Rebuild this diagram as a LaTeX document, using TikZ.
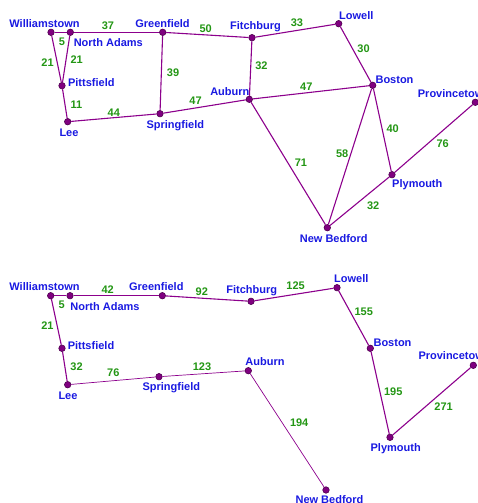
\documentclass[tikz,border=0pt]{standalone}
\usepackage{fontspec}
\setmainfont{Liberation Sans}
\usetikzlibrary{positioning}
\definecolor{roadpurple}{RGB}{140,0,140}
\definecolor{dotpurple}{RGB}{128,0,128}
\definecolor{dotedge}{RGB}{80,0,80}
\definecolor{townblue}{RGB}{25,25,225}
\definecolor{distgreen}{RGB}{35,150,20}

\begin{document}
\begin{tikzpicture}[x=1pt,y=-1pt]
 \tikzset{city/.style={circle,fill=dotpurple,draw=dotedge,line width=0.6pt,inner sep=0pt,minimum size=6.5pt},
  town/.style={text=townblue,font=\bfseries\fontsize{11}{13}\selectfont,inner sep=0pt,anchor=base},
  dist/.style={text=distgreen,font=\bfseries\fontsize{11}{13}\selectfont,inner sep=0pt},
  road/.style={draw=roadpurple,line width=1.1pt},
  thinroad/.style={draw=roadpurple,line width=0.7pt}}
 \useasboundingbox (0,0) rectangle (477,503);

 % full map
 \node[city] (wilA) at (51,32.3) {};
 \node[city] (naA) at (70.3,32.3) {};
 \node[city] (greA) at (162.7,32.3) {};
 \node[city] (fitA) at (252,37.7) {};
 \node[city] (lowA) at (338.7,23.7) {};
 \node[city] (pitA) at (62,85.7) {};
 \node[city] (leeA) at (67.7,121.7) {};
 \node[city] (sprA) at (160,113.7) {};
 \node[city] (aubA) at (249.3,99.3) {};
 \node[city] (bosA) at (372.7,85.3) {};
 \node[city] (proA) at (475.3,102.3) {};
 \node[city] (plyA) at (392,174.7) {};
 \node[city] (nbA) at (327.3,227.7) {};

 \node[town] (wilAt) at (44.5,27.3) {Williamstown};
 \node[town] (naAt) at (108.3,46.7) {North Adams};
 \node[town] (greAt) at (162.5,27.3) {Greenfield};
 \node[town] (fitAt) at (255.5,29.3) {Fitchburg};
 \node[town] (lowAt) at (356.3,19.3) {Lowell};
 \node[town] (pitAt) at (91.3,86) {Pittsfield};
 \node[town] (leeAt) at (69,136.5) {Lee};
 \node[town] (sprAt) at (175.3,128.3) {Springfield};
 \node[town] (aubAt) at (229.8,95) {Auburn};
 \node[town] (bosAt) at (394.5,83.3) {Boston};
 \node[town,anchor=base west] (proAt) at (417.7,97.3) {Provincetown};
 \node[town] (plyAt) at (417.3,187.5) {Plymouth};
 \node[town] (nbAt) at (333.8,242.3) {New Bedford};

 \draw[road] (wilA) -- node[dist,pos=.6,below=5pt] {5} (naA);
 \draw[road] (naA) -- node[dist,pos=.4,above=2pt] {37} (greA);
 \draw[road] (greA) -- node[dist,pos=.48,above=2pt] {50} (fitA);
 \draw[road] (fitA) -- node[dist,pos=.52,above=3.5pt] {33} (lowA);
 \draw[road] (wilA) -- node[dist,pos=.57,left=3pt] {21} (pitA);
 \draw[road] (naA) -- node[dist,pos=.51,right=4pt] {21} (pitA);
 \draw[road] (pitA) -- node[dist,pos=.53,right=5pt] {11} (leeA);
 \draw[road] (greA) -- node[dist,pos=.5,right=5pt] {39} (sprA);
 \draw[road] (leeA) -- node[dist,pos=.5,above=1pt] {44} (sprA);
 \draw[road] (sprA) -- node[dist,pos=.39,above=2.5pt] {47} (aubA);
 \draw[road] (fitA) -- node[dist,pos=.44,right=4pt] {32} (aubA);
 \draw[road] (aubA) -- node[dist,pos=.46,above=2pt] {47} (bosA);
 \draw[road] (lowA) -- node[dist,pos=.39,right=4.5pt] {30} (bosA);
 \draw[road] (bosA) -- node[dist,pos=.48,right=4pt] {40} (plyA);
 \draw[road] (proA) -- node[dist,pos=.47,below right=2.5pt and 0pt] {76} (plyA);
 \draw[road] (aubA) -- node[dist,pos=.54,above right=1.5pt and 3pt] {71} (nbA);
 \draw[road] (bosA) -- node[dist,pos=.48,left=2pt] {58} (nbA);
 \draw[road] (nbA) -- node[dist,pos=.6,below right=4.5pt and 1pt] {32} (plyA);

 % spanning tree
 \node[city] (wilB) at (50.7,295.7) {};
 \node[city] (naB) at (70,295.7) {};
 \node[city] (greB) at (162.3,295.7) {};
 \node[city] (fitB) at (251,301.3) {};
 \node[city] (lowB) at (337,287.7) {};
 \node[city] (pitB) at (62,348.3) {};
 \node[city] (leeB) at (67.7,384.7) {};
 \node[city] (sprB) at (159,376.7) {};
 \node[city] (aubB) at (248.3,370.7) {};
 \node[city] (bosB) at (370.3,348.3) {};
 \node[city] (proB) at (473.3,365.3) {};
 \node[city] (plyB) at (390,437.3) {};
 \node[city] (nbB) at (326,490) {};

 \node[town] (wilBt) at (44.5,290) {Williamstown};
 \node[town] (naBt) at (105,310) {North Adams};
 \node[town] (greBt) at (156.3,290.5) {Greenfield};
 \node[town] (fitBt) at (251.7,293.5) {Fitchburg};
 \node[town] (lowBt) at (351.3,282.5) {Lowell};
 \node[town] (pitBt) at (91,349.3) {Pittsfield};
 \node[town] (leeBt) at (68,399.5) {Lee};
 \node[town] (sprBt) at (171.3,390) {Springfield};
 \node[town] (aubBt) at (265,365) {Auburn};
 \node[town] (bosBt) at (392.5,346) {Boston};
 \node[town,anchor=base west] (proBt) at (418.3,359.5) {Provincetown};
 \node[town] (plyBt) at (395.7,451.5) {Plymouth};
 \node[town] (nbBt) at (329.5,503.5) {New Bedford};

 \draw[road] (wilB) -- node[dist,pos=.6,below=4.5pt] {5} (naB);
 \draw[road] (naB) -- node[dist,pos=.4,above=2pt] {42} (greB);
 \draw[road] (greB) -- node[dist,pos=.44,above=2pt] {92} (fitB);
 \draw[road] (fitB) -- node[dist,pos=.52,above=4pt] {125} (lowB);
 \draw[road] (wilB) -- node[dist,pos=.57,left=3pt] {21} (pitB);
 \draw[road] (pitB) -- node[dist,pos=.51,right=5pt] {32} (leeB);
 \draw[thinroad] (leeB) -- node[dist,pos=.5,above=3.5pt] {76} (sprB);
 \draw[thinroad] (sprB) -- node[dist,pos=.48,above=2.5pt] {123} (aubB);
 \draw[road] (lowB) -- node[dist,pos=.38,right=4pt] {155} (bosB);
 \draw[road] (bosB) -- node[dist,pos=.49,right=3.5pt] {195} (plyB);
 \draw[road] (plyB) -- node[dist,pos=.55,below right=4.5pt and -1.7pt] {271} (proB);
 \draw[thinroad] (aubB) -- node[dist,pos=.5,above right=3.5pt and 2.5pt] {194} (nbB);
\end{tikzpicture}
\end{document}
